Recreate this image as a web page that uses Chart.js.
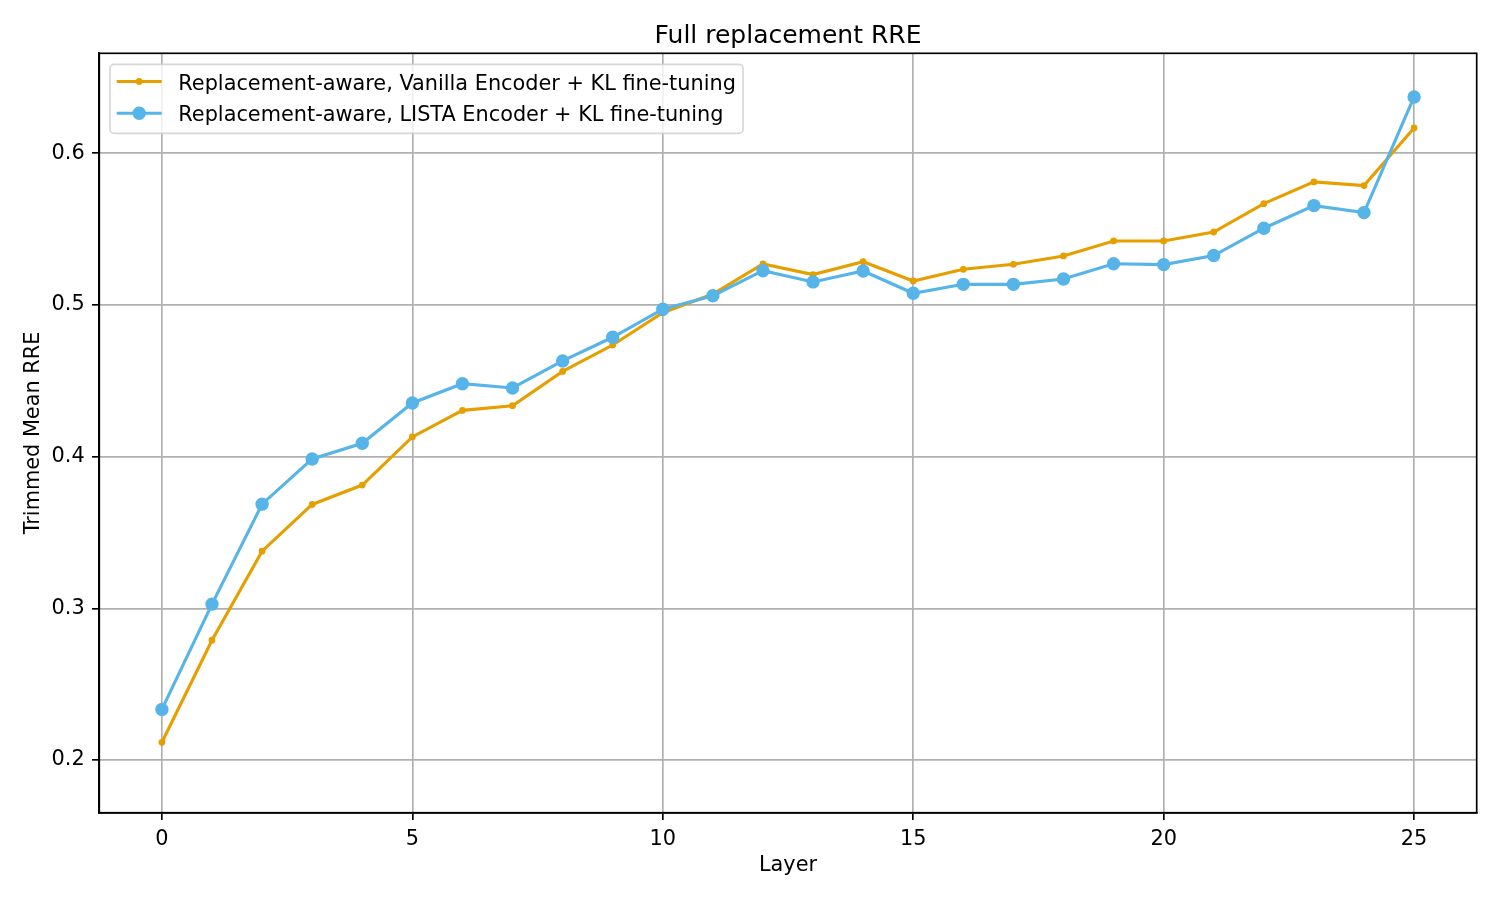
<!DOCTYPE html>
<html>
<head>
<meta charset="utf-8">
<script src="https://cdn.jsdelivr.net/npm/chart.js@4.4.1/dist/chart.umd.min.js"></script>
<style>
  html, body { margin: 0; padding: 0; background: #ffffff; }
  canvas { display: block; }
</style>
</head>
<body>
<canvas id="c" width="1500" height="900" style="width:1500px;height:900px"></canvas>
<script>
// ---- data ----
const chartTitle = "Full replacement RRE";
const xAxisTitle = "Layer";
const yAxisTitle = "Trimmed Mean RRE";
const layers = [0,1,2,3,4,5,6,7,8,9,10,11,12,13,14,15,16,17,18,19,20,21,22,23,24,25];
const vanillaLabel = "Replacement-aware, Vanilla Encoder + KL fine-tuning";
const vanillaValues = [0.2117, 0.2790, 0.3377, 0.3685, 0.3813, 0.4130, 0.4305, 0.4336, 0.4562, 0.4736,
                       0.4949, 0.5072, 0.5270, 0.5200, 0.5285, 0.5158, 0.5235, 0.5268, 0.5323, 0.5422,
                       0.5422, 0.5481, 0.5668, 0.5811, 0.5787, 0.6167];
const listaLabel = "Replacement-aware, LISTA Encoder + KL fine-tuning";
const listaValues = [0.2334, 0.3028, 0.3687, 0.3985, 0.4088, 0.4354, 0.4481, 0.4453, 0.4631, 0.4787,
                     0.4972, 0.5061, 0.5226, 0.5152, 0.5224, 0.5077, 0.5136, 0.5136, 0.5171, 0.5272,
                     0.5266, 0.5326, 0.5506, 0.5655, 0.5609, 0.6371];
const xTickValues = [0, 5, 10, 15, 20, 25];
const yTickValues = [0.2, 0.3, 0.4, 0.5, 0.6];

// ---- styling ----
const FONT = "DejaVu Sans";
const PT = 150 / 72;
const ORANGE = "#E69F00";
const BLUE = "#56B4E9";
Chart.defaults.font.family = FONT;
Chart.defaults.color = "#000000";

const toPoints = (vals) => vals.map((v, i) => ({ x: layers[i], y: v }));

// matplotlib-style title over the axes, full box spines, legend inside the axes
const framePlugin = {
  id: "frame",
  afterDatasetsDraw(chart) {
    const a = chart.chartArea, ctx = chart.ctx;
    ctx.save();
    ctx.strokeStyle = "#000000";
    ctx.lineWidth = 0.8 * PT;
    ctx.strokeRect(a.left, a.top, a.right - a.left, a.bottom - a.top);
    ctx.restore();
  },
  afterDraw(chart) {
    const a = chart.chartArea, ctx = chart.ctx;
    const ds = chart.data.datasets;
    ctx.save();
    // title
    ctx.fillStyle = "#000000";
    ctx.font = (12 * PT) + "px '" + FONT + "'";
    ctx.textAlign = "center";
    ctx.textBaseline = "alphabetic";
    ctx.fillText(chartTitle, (a.left + a.right) / 2, 43);
    // legend
    const legendOrder = [0, 1];
    const x0 = 110, y0 = 64.3, w = 633, h = 69, r = 4;
    ctx.beginPath();
    ctx.roundRect(x0, y0, w, h, r);
    ctx.fillStyle = "rgba(255,255,255,0.8)";
    ctx.fill();
    ctx.strokeStyle = "rgba(204,204,204,0.8)";
    ctx.lineWidth = 0.8 * PT;
    ctx.stroke();
    const rows = [81.5, 113.3];
    const baselines = [89.6, 121.2];
    legendOrder.forEach((di, k) => {
      const d = ds[di];
      const y = rows[k];
      ctx.strokeStyle = d.borderColor;
      ctx.lineWidth = d.borderWidth;
      ctx.beginPath();
      ctx.moveTo(116.7, y);
      ctx.lineTo(161.7, y);
      ctx.stroke();
      ctx.beginPath();
      ctx.arc(139.2, y, d.pointRadius + d.pointBorderWidth / 2, 0, Math.PI * 2);
      ctx.fillStyle = d.pointBackgroundColor;
      ctx.fill();
      ctx.fillStyle = "#000000";
      ctx.font = (10 * PT) + "px '" + FONT + "'";
      ctx.textBaseline = "alphabetic";
      ctx.textAlign = "left";
      ctx.fillText(d.label, 178.3, baselines[k]);
    });
    ctx.restore();
  }
};

new Chart(document.getElementById("c"), {
  type: "line",
  data: {
    datasets: [
      {
        label: vanillaLabel,
        data: toPoints(vanillaValues),
        borderColor: ORANGE,
        backgroundColor: ORANGE,
        pointBackgroundColor: ORANGE,
        pointBorderColor: ORANGE,
        borderWidth: 1.5 * PT,
        pointRadius: 2.7,
        pointBorderWidth: 1.4,
        tension: 0,
        order: 1
      },
      {
        label: listaLabel,
        data: toPoints(listaValues),
        borderColor: BLUE,
        backgroundColor: BLUE,
        pointBackgroundColor: BLUE,
        pointBorderColor: BLUE,
        borderWidth: 1.5 * PT,
        pointRadius: 6,
        pointBorderWidth: 1.4,
        tension: 0,
        order: 0
      }
    ]
  },
  options: {
    responsive: false,
    animation: false,
    devicePixelRatio: 1,
    events: [],
    layout: { padding: { left: 0, right: 23.3, top: 53.3, bottom: 0 } },
    plugins: {
      legend: { display: false },
      tooltip: { enabled: false },
      title: { display: false }
    },
    scales: {
      x: {
        type: "linear",
        position: "bottom",
        min: -1.25,
        max: 26.25,
        afterBuildTicks: (s) => { s.ticks = xTickValues.map(v => ({ value: v })); },
        afterFit: (s) => { s.height = 900 - 812.7; },
        ticks: {
          color: "#000000",
          font: { family: FONT, size: 10 * PT },
          padding: 3.5 * PT,
          maxRotation: 0,
          callback: (v) => String(v)
        },
        grid: {
          color: "#b0b0b0",
          lineWidth: 0.8 * PT,
          drawTicks: true,
          tickLength: 3.5 * PT,
          tickColor: "#000000",
          tickWidth: 0.8 * PT
        },
        border: { display: true, color: "#000000", width: 0.8 * PT },
        title: {
          display: true,
          text: xAxisTitle,
          color: "#000000",
          font: { family: FONT, size: 10 * PT, lineHeight: 1.2 },
          padding: { top: 0, bottom: 22.4 }
        }
      },
      y: {
        type: "linear",
        position: "left",
        min: 0.1653,
        max: 0.6659,
        afterBuildTicks: (s) => { s.ticks = yTickValues.map(v => ({ value: v })); },
        afterFit: (s) => { s.width = 99.3; },
        ticks: {
          color: "#000000",
          font: { family: FONT, size: 10 * PT },
          padding: 3.5 * PT,
          callback: (v) => Number(v).toFixed(1)
        },
        grid: {
          color: "#b0b0b0",
          lineWidth: 0.8 * PT,
          drawTicks: true,
          tickLength: 3.5 * PT,
          tickColor: "#000000",
          tickWidth: 0.8 * PT
        },
        border: { display: true, color: "#000000", width: 0.8 * PT },
        title: {
          display: true,
          text: yAxisTitle,
          color: "#000000",
          font: { family: FONT, size: 10 * PT, lineHeight: 1.2 },
          padding: { top: 21.0, bottom: 0 }
        }
      }
    }
  },
  plugins: [framePlugin]
});
</script>
</body>
</html>
